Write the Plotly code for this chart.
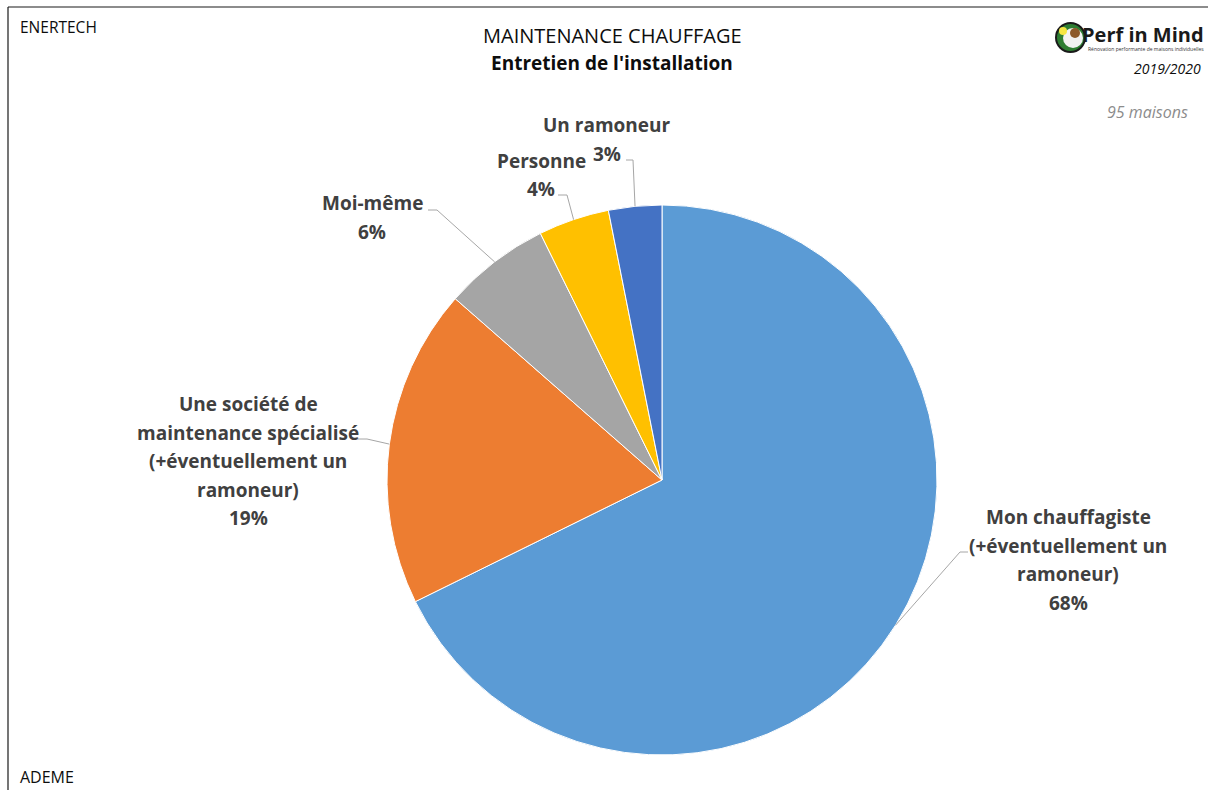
import math
import plotly.graph_objects as go

# ---------------- data ----------------
categories = [
    "Mon chauffagiste (+éventuellement un ramoneur)",
    "Une société de maintenance spécialisé (+éventuellement un ramoneur)",
    "Moi-même",
    "Personne",
    "Un ramoneur",
]
label_lines = [
    ["Mon chauffagiste", "(+éventuellement un", "ramoneur)"],
    ["Une société de", "maintenance spécialisé", "(+éventuellement un", "ramoneur)"],
    ["Moi-même"],
    ["Personne"],
    ["Un ramoneur"],
]
counts = [65, 18, 6, 4, 3]
colors = ["#5B9BD5", "#ED7D31", "#A5A5A5", "#FFC000", "#4472C4"]

title_main = "MAINTENANCE CHAUFFAGE"
title_sub = "Entretien de l'installation"
n_label = "95 maisons"
period = "2019/2020"

# ---------------- layout constants ----------------
W, H = 1208, 790
CX, CY, R = 662, 480, 275  # pie centre/radius in pixels

# label placement (centre x, first-line y) and leader-line elbow/end (pixels)
label_pos = [(1068, 517), (248, 404), (372, 203), (541, 161), (607, 125)]
leader_pts = [((960, 552), (968, 552)),
              ((367, 439), (358, 439)),
              ((437, 210), (428, 210)),
              ((567, 195), (558, 195)),
              ((633, 160), (626, 160))]
LINE_H = 28.5
LABEL_FONT = dict(family="Open Sans", size=19, color="#404040")


def px(x):
    return x / W


def py(y):
    return 1 - y / H


fig = go.Figure()
fig.add_trace(go.Pie(
    labels=categories,
    values=counts,
    sort=False,
    direction="clockwise",
    rotation=0,
    marker=dict(colors=colors, line=dict(color="white", width=1)),
    textinfo="none",
    hoverinfo="label+percent",
    domain=dict(x=[px(CX - R), px(CX + R)], y=[py(CY + R), py(CY - R)]),
    showlegend=False,
))

annotations = []
shapes = []

total = sum(counts)
cum = 0
for i, v in enumerate(counts):
    mid = (cum + v / 2) / total
    cum += v
    ang = 2 * math.pi * mid  # clockwise from 12 o'clock
    ex = CX + R * math.sin(ang)
    ey = CY - R * math.cos(ang)
    pct = f"{round(100 * v / total)}%"
    lines = label_lines[i] + [pct]
    lx, ly = label_pos[i]
    for k, t in enumerate(lines):
        annotations.append(dict(
            x=px(lx), y=py(ly + k * LINE_H), xref="paper", yref="paper",
            text=f"<b>{t}</b>", showarrow=False, xanchor="center", yanchor="middle",
            font=LABEL_FONT,
        ))
    (e1x, e1y), (e2x, e2y) = leader_pts[i]
    shapes.append(dict(
        type="path", xref="paper", yref="paper",
        path=f"M {px(ex)} {py(ey)} L {px(e1x)} {py(e1y)} L {px(e2x)} {py(e2y)}",
        line=dict(color="#A6A6A6", width=1),
    ))

# titles and side texts
annotations += [
    dict(x=px(612), y=py(35), text=title_main, showarrow=False, xref="paper", yref="paper",
         xanchor="center", yanchor="middle", font=dict(family="Open Sans", size=20, color="#0d0d0d")),
    dict(x=px(612), y=py(63), text=f"<b>{title_sub}</b>", showarrow=False, xref="paper", yref="paper",
         xanchor="center", yanchor="middle", font=dict(family="Open Sans", size=19, color="#0d0d0d")),
    dict(x=px(18), y=py(27), text="ENERTECH", showarrow=False, xref="paper", yref="paper",
         xanchor="left", yanchor="middle", font=dict(family="Open Sans", size=15.5, color="#0d0d0d")),
    dict(x=px(18), y=py(777), text="ADEME", showarrow=False, xref="paper", yref="paper",
         xanchor="left", yanchor="middle", font=dict(family="Open Sans", size=16, color="#0d0d0d")),
    dict(x=px(1203), y=py(68), text=f"<i>{period}</i>", showarrow=False, xref="paper", yref="paper",
         xanchor="right", yanchor="middle", font=dict(family="Open Sans", size=14, color="#0d0d0d")),
    dict(x=px(1190), y=py(112), text=f"<i>{n_label}</i>", showarrow=False, xref="paper", yref="paper",
         xanchor="right", yanchor="middle", font=dict(family="Open Sans", size=16, color="#8c8c8c")),
    # logo text
    dict(x=px(1206), y=py(34), text="<b>Perf in Mind</b>", showarrow=False, xref="paper", yref="paper",
         xanchor="right", yanchor="middle", font=dict(family="Open Sans", size=20, color="#1a1a1a")),
    dict(x=px(1206), y=py(49), text="Rénovation performante de maisons individuelles", showarrow=False,
         xref="paper", yref="paper", xanchor="right", yanchor="middle",
         font=dict(family="Open Sans", size=5, color="#333333")),
]

# frame lines
shapes += [
    dict(type="line", xref="paper", yref="paper", x0=px(8), y0=py(7), x1=1, y1=py(7),
         line=dict(color="#1a1a1a", width=1.2)),
    dict(type="line", xref="paper", yref="paper", x0=px(8), y0=py(7), x1=px(8), y1=0,
         line=dict(color="#1a1a1a", width=1.2)),
]

# logo icon (simple circle emblem)
shapes += [
    dict(type="circle", xref="paper", yref="paper", x0=px(1056), y0=py(23), x1=px(1085), y1=py(52),
         fillcolor="#2e7d32", line=dict(color="#1a1a1a", width=2)),
    dict(type="circle", xref="paper", yref="paper", x0=px(1063), y0=py(28), x1=px(1083), y1=py(48),
         fillcolor="#f2f2f2", line=dict(width=0)),
    dict(type="circle", xref="paper", yref="paper", x0=px(1059), y0=py(27), x1=px(1067), y1=py(35),
         fillcolor="#f5e642", line=dict(width=0)),
    dict(type="circle", xref="paper", yref="paper", x0=px(1070), y0=py(28), x1=px(1080), y1=py(38),
         fillcolor="#8d5a2b", line=dict(width=0)),
]

fig.update_layout(
    width=W, height=H,
    margin=dict(l=0, r=0, t=0, b=0),
    paper_bgcolor="white",
    plot_bgcolor="white",
    annotations=annotations,
    shapes=shapes,
)

fig.write_html(
    "out.html",
    config={"displayModeBar": False},
    post_script="document.body.style.margin='0';document.body.style.overflow='hidden';",
)
